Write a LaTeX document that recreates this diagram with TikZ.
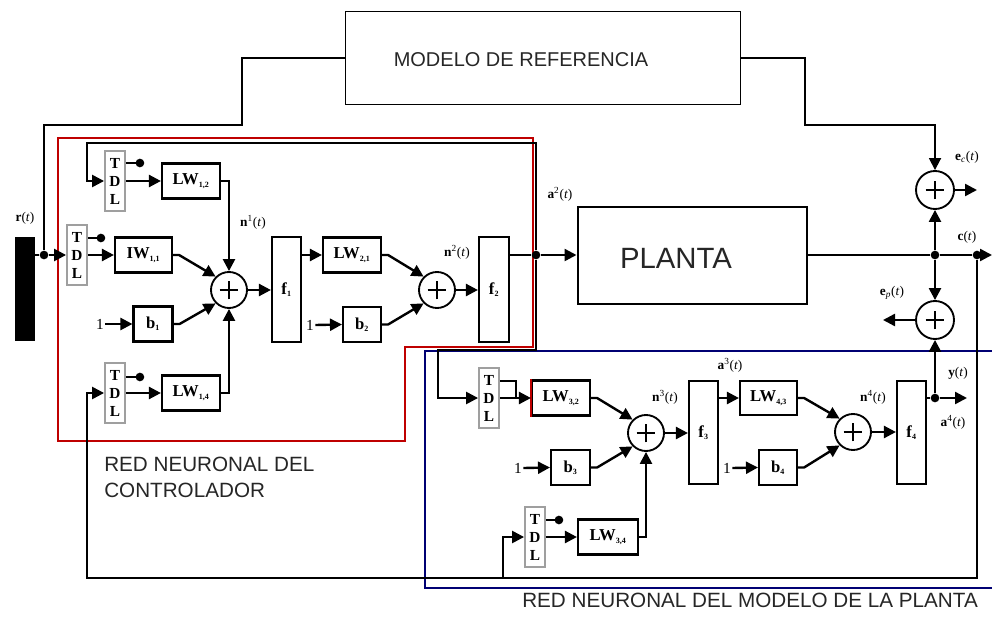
\documentclass[tikz,border=0pt]{standalone}
\usepackage{fontspec}
\setmainfont{Liberation Serif}
\newfontfamily\sansf{Liberation Sans}
\usetikzlibrary{arrows.meta,calc}
\newcommand{\sig}[2]{\textbf{#1}\textsuperscript{#2}(\textit{t})}
\newcommand{\wgt}[2]{\textbf{#1}\textsubscript{\fontsize{6}{6}\selectfont #2}}
\begin{document}
\begin{tikzpicture}[x=0.75pt,y=-0.75pt,
  ln/.style={line width=1.8pt},
  arr/.style={line width=1.8pt,-{Triangle[length=9pt,width=9pt]}},
  blk/.style={draw,line width=1.6pt,inner sep=0pt,font=\fontsize{12.5}{13}\selectfont\bfseries},
  tdlbox/.style={draw=gray!75,line width=1.4pt,inner sep=0pt,minimum width=15pt,minimum height=45pt,align=center,font=\fontsize{11.5}{13.5}\selectfont\bfseries},
  sumn/.style={circle,draw,line width=1.4pt,minimum size=27pt,inner sep=0pt,
    path picture={\draw[line width=1pt] ([xshift=-7pt]path picture bounding box.center) -- ([xshift=7pt]path picture bounding box.center);
                  \draw[line width=1pt] ([yshift=-7pt]path picture bounding box.center) -- ([yshift=7pt]path picture bounding box.center);}},
  dotn/.style={circle,fill,inner sep=0pt,minimum size=6.5pt},
  lab/.style={font=\fontsize{10}{11}\selectfont,inner sep=1pt},
  onel/.style={font=\fontsize{11.5}{12}\selectfont,inner sep=1pt},
  bigtxt/.style={font=\sansf\fontsize{15.5}{19.5}\selectfont,text=black!85}
]
\useasboundingbox (0,0) rectangle (992,624);

% group frames
\draw[red!75!black,line width=0.9pt] (58,138) -- (533,138) -- (533,347) -- (405,347) -- (405,441) -- (58,441) -- cycle;
\draw[blue!45!black,line width=0.9pt] (992,351) -- (425,351) -- (425,588) -- (992,588);

% big boxes
\node[draw,line width=1.2pt,minimum width=296.25pt,minimum height=69.75pt] (refm) at (543,58) {};
\node[font=\sansf\fontsize{15}{17}\selectfont,text=black!85] (refmtxt) at (521,60) {MODELO DE REFERENCIA};
\node[draw,line width=1.5pt,minimum width=171.75pt,minimum height=72.75pt] (planta) at (692,255.5) {};
\node[font=\sansf\fontsize{22}{24}\selectfont,text=black!85] (plantatxt) at (676,258) {PLANTA};
\node[fill=black,inner sep=0pt,minimum width=15pt,minimum height=78pt] (rbar) at (25,289) {};

% controller
\node[tdlbox] (tdl1) at (77,255) {T\\D\\L};
\node[tdlbox] (tdl2) at (115,181) {T\\D\\L};
\node[tdlbox] (tdl3) at (115,393) {T\\D\\L};
\node[blk,minimum width=42.75pt,minimum height=26.25pt] (iw11) at (143.5,255) {\wgt{IW}{1,1}};
\node[blk,minimum width=43.5pt,minimum height=26.25pt] (lw12) at (191,181) {\wgt{LW}{1,2}};
\node[blk,minimum width=43.5pt,minimum height=26.25pt] (lw14) at (191,393) {\wgt{LW}{1,4}};
\node[blk,minimum width=29.25pt,minimum height=26.25pt] (b1) at (153,324) {\wgt{b}{1}};
\node[sumn] (sum1) at (229,290) {};
\node[blk,minimum width=21.75pt,minimum height=78.75pt] (f1) at (286.5,289.5) {\wgt{f}{1}};
\node[blk,minimum width=43.5pt,minimum height=26.25pt] (lw21) at (352,255) {\wgt{LW}{2,1}};
\node[blk,minimum width=28.5pt,minimum height=26.25pt] (b2) at (362,324.5) {\wgt{b}{2}};
\node[sumn] (sum2) at (437,290) {};
\node[blk,minimum width=22.5pt,minimum height=78.75pt] (f2) at (494,289.5) {\wgt{f}{2}};
\node[onel] (one1) at (100,324) {1};
\node[onel] (one2) at (310,325) {1};

% plant model
\node[tdlbox] (tdl4) at (489,398) {T\\D\\L};
\node[tdlbox] (tdl5) at (535,537) {T\\D\\L};
\node[blk,minimum width=43.5pt,minimum height=26.25pt] (lw32) at (561,398) {\wgt{LW}{3,2}};
\draw[red!75!black,line width=1.6pt] (lw32.south west) -- (lw32.north west);
\node[blk,minimum width=29.25pt,minimum height=26.25pt] (b3) at (570.5,467.5) {\wgt{b}{3}};
\node[sumn] (sum3) at (646,433) {};
\node[blk,minimum width=21.75pt,minimum height=77.25pt] (f3) at (703.5,432.5) {\wgt{f}{3}};
\node[blk,minimum width=45pt,minimum height=26.25pt] (lw34) at (608,537) {\wgt{LW}{3,4}};
\node[blk,minimum width=42.75pt,minimum height=25.5pt] (lw43) at (768.5,398) {\wgt{LW}{4,3}};
\node[blk,minimum width=28.5pt,minimum height=26.25pt] (b4) at (778,467.5) {\wgt{b}{4}};
\node[sumn] (sum4) at (853,432) {};
\node[blk,minimum width=21.75pt,minimum height=77.25pt] (f4) at (911.5,432.5) {\wgt{f}{4}};
\node[onel] (one3) at (518,468) {1};
\node[onel] (one4) at (727,468) {1};

% error sums
\node[sumn,minimum size=28.5pt] (sumc) at (935,190) {};
\node[sumn,minimum size=28.5pt] (sump) at (935,320) {};

% junctions
\node[dotn] (rj) at (44,255) {};
\node[dotn] (aj) at (536,255) {};
\node[dotn] (cj1) at (935,255) {};
\node[dotn] (cj2) at (977,255) {};
\node[dotn] (yj) at (935,398) {};
\coordinate (cout) at (992,255);
\coordinate (ecout) at (977,190);
\coordinate (epout) at (883,320);
\coordinate (yout) at (967,398);
\coordinate (fbj) at (503,578);

% reference model wiring
\draw[line width=1.3pt] (refm.west) -- (242,58) -- (242,125) -- (44,125) -- (rj);
\draw[line width=1.3pt,-{Triangle[length=9pt,width=9pt]}] (refm.east) -- (805,58) -- (805,125) -- (935,125) -- (sumc.north);
\draw[ln] (rj) -- (rj -| rbar.east);
\draw[arr] (rj) -- (tdl1.west);

% TDL taps
\draw[ln] ($(tdl1.east)+(0,-17)$) -- ++(13,0) node[dotn] (t1d) {};
\draw[ln] ($(tdl2.east)+(0,-18)$) -- ++(14,0) node[dotn] (t2d) {};
\draw[ln] ($(tdl3.east)+(0,-16)$) -- ++(14,0) node[dotn] (t3d) {};
\draw[ln] ($(tdl5.east)+(0,-17)$) -- ++(13,0) node[dotn] (t5d) {};
\draw[ln] ($(tdl4.east)+(0,-17)$) -- ++(16,0) -- ++(0,17);

% controller wiring
\draw[arr] (tdl1.east) -- (iw11.west);
\draw[arr] (tdl2.east) -- (lw12.west);
\draw[arr] (tdl3.east) -- (lw14.west);
\draw[arr] (one1.east) -- (b1.west);
\draw[arr] (one2.east) -- (b2.west);
\draw[arr] (iw11.east) -- ++(6,0) -- (sum1.135);
\draw[arr] (b1.east) -- ++(6,0) -- (sum1.225);
\draw[arr] (lw12.east) -- (229,181) -- (sum1.north);
\draw[arr] (lw14.east) -- (229,393) -- (sum1.south);
\draw[arr] (sum1.east) -- (sum1.east -| f1.west);
\draw[arr] (f1.east |- lw21) -- (lw21.west);
\draw[arr] (lw21.east) -- ++(6,0) -- (sum2.135);
\draw[arr] (b2.east) -- ++(6,0) -- (sum2.225);
\draw[arr] (sum2.east) -- (sum2.east -| f2.west);
\draw[ln] (aj -| f2.east) -- (aj);
\draw[arr] (aj) -- (aj -| planta.west);
\draw[arr] (aj) -- (536,143) -- (87,143) -- (87,181) -- (tdl2.west);
\draw[arr] (aj) -- (536,350) -- (438,350) -- (438,398) -- (tdl4.west);

% plant model wiring
\draw[arr] (tdl4.east) -- (lw32.west);
\draw[arr] (tdl5.east) -- (lw34.west);
\draw[arr] (one3.east) -- (b3.west);
\draw[arr] (one4.east) -- (b4.west);
\draw[arr] (lw32.east) -- ++(6,0) -- (sum3.135);
\draw[arr] (b3.east) -- ++(6,0) -- (sum3.225);
\draw[arr] (lw34.east) -- (646,537) -- (sum3.south);
\draw[arr] (sum3.east) -- (sum3.east -| f3.west);
\draw[arr] (f3.east |- lw43) -- (lw43.west);
\draw[arr] (lw43.east) -- ++(6,0) -- (sum4.135);
\draw[arr] (b4.east) -- ++(6,0) -- (sum4.225);
\draw[arr] (sum4.east) -- (sum4.east -| f4.west);
\draw[ln] (yj -| f4.east) -- (yj);
\draw[arr] (yj) -- (yout);
\draw[arr] (yj) -- (sump.south);

% plant output and errors
\draw[ln] (planta.east |- cj1) -- (cj1) -- (cj2);
\draw[arr] (cj2) -- (cout);
\draw[arr] (cj1) -- (sumc.south);
\draw[arr] (cj1) -- (sump.north);
\draw[arr] (sumc.east) -- (ecout);
\draw[arr] (sump.west) -- (epout);

% feedback of c(t)
\draw[arr] (cj2) -- (977,578) -- (87,578) -- (87,393) -- (tdl3.west);
\draw[arr] (fbj) -- (503,537) -- (tdl5.west);

% signal labels
\node[lab] (lr) at (25,218) {\textbf{r}(\textit{t})};
\node[lab] (ln1) at (253,222) {\sig{n}{1}};
\node[lab] (ln2) at (457,252) {\sig{n}{2}};
\node[lab] (la2) at (560,194) {\sig{a}{2}};
\node[lab] (lec) at (967,157) {\textbf{e}\textsubscript{\textit{c}}(\textit{t})};
\node[lab] (lc) at (967,237) {\textbf{c}(\textit{t})};
\node[lab] (lep) at (892,293) {\textbf{e}\textsubscript{\textit{p}}(\textit{t})};
\node[lab] (la3) at (730,365) {\sig{a}{3}};
\node[lab] (ln3) at (665,397) {\sig{n}{3}};
\node[lab] (ln4) at (873,397) {\sig{n}{4}};
\node[lab] (ly) at (958,373) {\textbf{y}(\textit{t})};
\node[lab] (la4) at (953,422) {\sig{a}{4}};

% group titles
\node[bigtxt,anchor=north west,align=left,inner sep=0pt] (ctrllab) at (104,457) {RED NEURONAL DEL\\CONTROLADOR};
\node[bigtxt,anchor=west,inner sep=0pt] (plantlab) at (522,600) {RED NEURONAL DEL MODELO DE LA PLANTA};
\end{tikzpicture}
\end{document}
